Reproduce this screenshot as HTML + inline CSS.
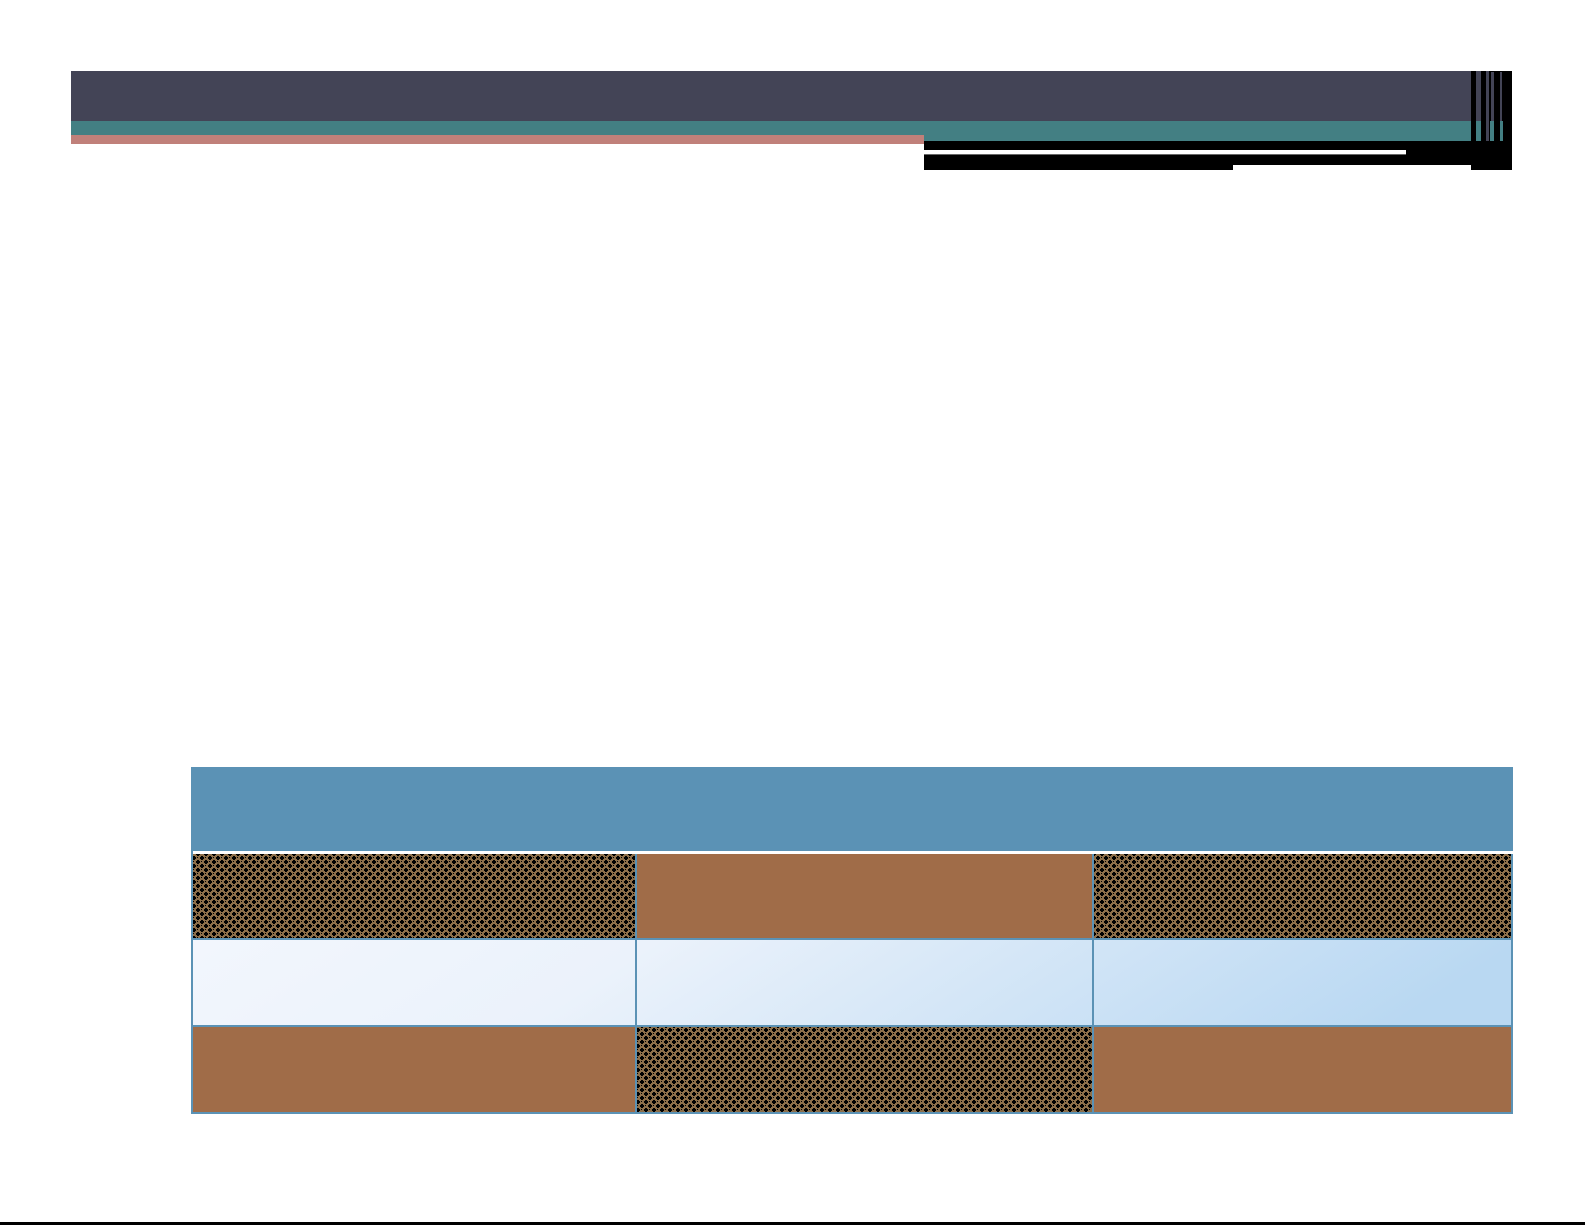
<!DOCTYPE html>
<html><head><style>
html,body{margin:0;padding:0;background:#fff;width:1585px;height:1225px;overflow:hidden;position:relative}
div{position:absolute}
</style></head><body>
<div style="left:71px;top:71px;width:1400px;height:50px;background:#434456"></div>
<div style="left:71px;top:121px;width:1400px;height:20px;background:#437f83"></div>
<div style="left:71px;top:135px;width:853px;height:9px;background:#c0807a"></div>
<div style="left:924px;top:141px;width:588px;height:29px;background:#000"></div>
<div style="left:924px;top:150px;width:482px;height:4px;background:#fff;border-bottom:1px solid #666"></div>
<div style="left:1233px;top:165px;width:252px;height:5px;background:#fff"></div>
<div style="left:1471px;top:71px;width:41px;height:99px;background:#000"></div>
<div style="left:1476px;top:71px;width:5px;height:70px;background:#434456"></div>
<div style="left:1486px;top:71px;width:3px;height:70px;background:#434456"></div>
<div style="left:1491px;top:72px;width:3px;height:69px;background:#434456"></div>
<div style="left:1500px;top:72px;width:2px;height:69px;background:#434456"></div>
<div style="left:1476px;top:121px;width:5px;height:20px;background:#437f83"></div>
<div style="left:1490px;top:121px;width:4px;height:20px;background:#437f83"></div>
<div style="left:1500px;top:121px;width:3px;height:20px;background:#437f83"></div>
<svg style="position:absolute;left:0;top:0" width="1585" height="1225">
<defs>
<pattern id="p" width="8" height="8" patternUnits="userSpaceOnUse">
<rect width="8" height="8" fill="#8d6f4a"/>
<path d="M1 0h2v1h1v2h-1v1h-2v-1h-1v-2h1z" fill="#000"/>
<path d="M5 4h2v1h1v2h-1v1h-2v-1h-1v-2h1z" fill="#000"/>
<rect x="5" y="1" width="1" height="1" fill="#000"/>
<rect x="1" y="5" width="1" height="1" fill="#000"/>
</pattern>
<linearGradient id="g" x1="0" y1="0" x2="1" y2="0.1">
<stop offset="0" stop-color="#f2f6fd"/><stop offset="0.35" stop-color="#ebf2fb"/><stop offset="1" stop-color="#b9d8f2"/>
</linearGradient>
</defs>
<rect x="191" y="767" width="1322" height="347" fill="#5b92b5"/>
<rect x="193" y="851" width="1320" height="3" fill="#fff"/>
<rect x="193" y="854" width="442" height="84" fill="url(#p)"/>
<rect x="637" y="854" width="455" height="84" fill="#a06c48"/>
<rect x="1094" y="854" width="417" height="84" fill="url(#p)"/>
<rect x="193" y="940" width="1318" height="85" fill="url(#g)"/>
<rect x="635" y="940" width="2" height="85" fill="#5b92b5"/>
<rect x="1092" y="940" width="2" height="85" fill="#5b92b5"/>
<rect x="193" y="1027" width="442" height="85" fill="#a06c48"/>
<rect x="637" y="1027" width="455" height="85" fill="url(#p)"/>
<rect x="1094" y="1027" width="417" height="85" fill="#a06c48"/>
<rect x="0" y="1222" width="1585" height="3" fill="#000"/>
</svg>
</body></html>
